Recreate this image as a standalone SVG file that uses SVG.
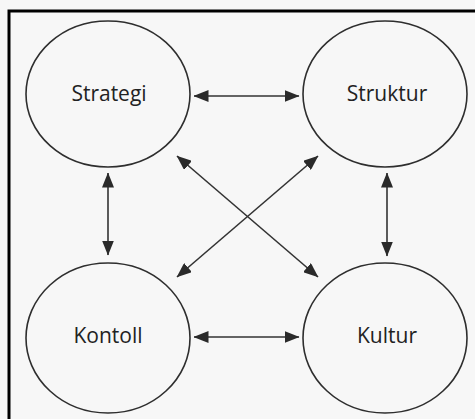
<svg xmlns="http://www.w3.org/2000/svg" width="475" height="419" viewBox="0 0 475 419">
<style>
.node ellipse{fill:none;stroke:#2e2e2e;stroke-width:1.6}
.node text{font-family:"Open Sans","Noto Sans",sans-serif;font-size:21px;fill:#222;text-anchor:middle}
.conn line{stroke:#333;stroke-width:1.6;marker-start:url(#ah);marker-end:url(#ah)}
</style>
<defs>
<marker id="ah" viewBox="0 0 15 12" refX="14.5" refY="6" markerWidth="15" markerHeight="12" markerUnits="userSpaceOnUse" orient="auto-start-reverse">
<path d="M0,0 L15,6 L0,12 Z" fill="#2a2a2a"/>
</marker>
</defs>
<rect x="0" y="0" width="475" height="419" fill="#f7f7f7"/>
<path d="M9,419 V11 H475" fill="none" stroke="#000" stroke-width="3"/>
<g id="strategi" class="node"><ellipse cx="108" cy="94" rx="82" ry="73"/><text x="109" y="101">Strategi</text></g>
<g id="struktur" class="node"><ellipse cx="385" cy="94" rx="82" ry="73"/><text x="387" y="101">Struktur</text></g>
<g id="kontoll" class="node"><ellipse cx="108" cy="338" rx="82" ry="75"/><text x="108" y="343">Kontoll</text></g>
<g id="kultur" class="node"><ellipse cx="385" cy="338" rx="82" ry="75"/><text x="387" y="343">Kultur</text></g>
<g id="connectors" class="conn">
<line x1="194" y1="96" x2="299" y2="96"/>
<line x1="194" y1="337" x2="299" y2="337"/>
<line x1="108" y1="173" x2="108" y2="255"/>
<line x1="387" y1="173" x2="387" y2="256"/>
<line x1="177" y1="156" x2="318" y2="277"/>
<line x1="318" y1="156" x2="177" y2="277"/>
</g>
</svg>
